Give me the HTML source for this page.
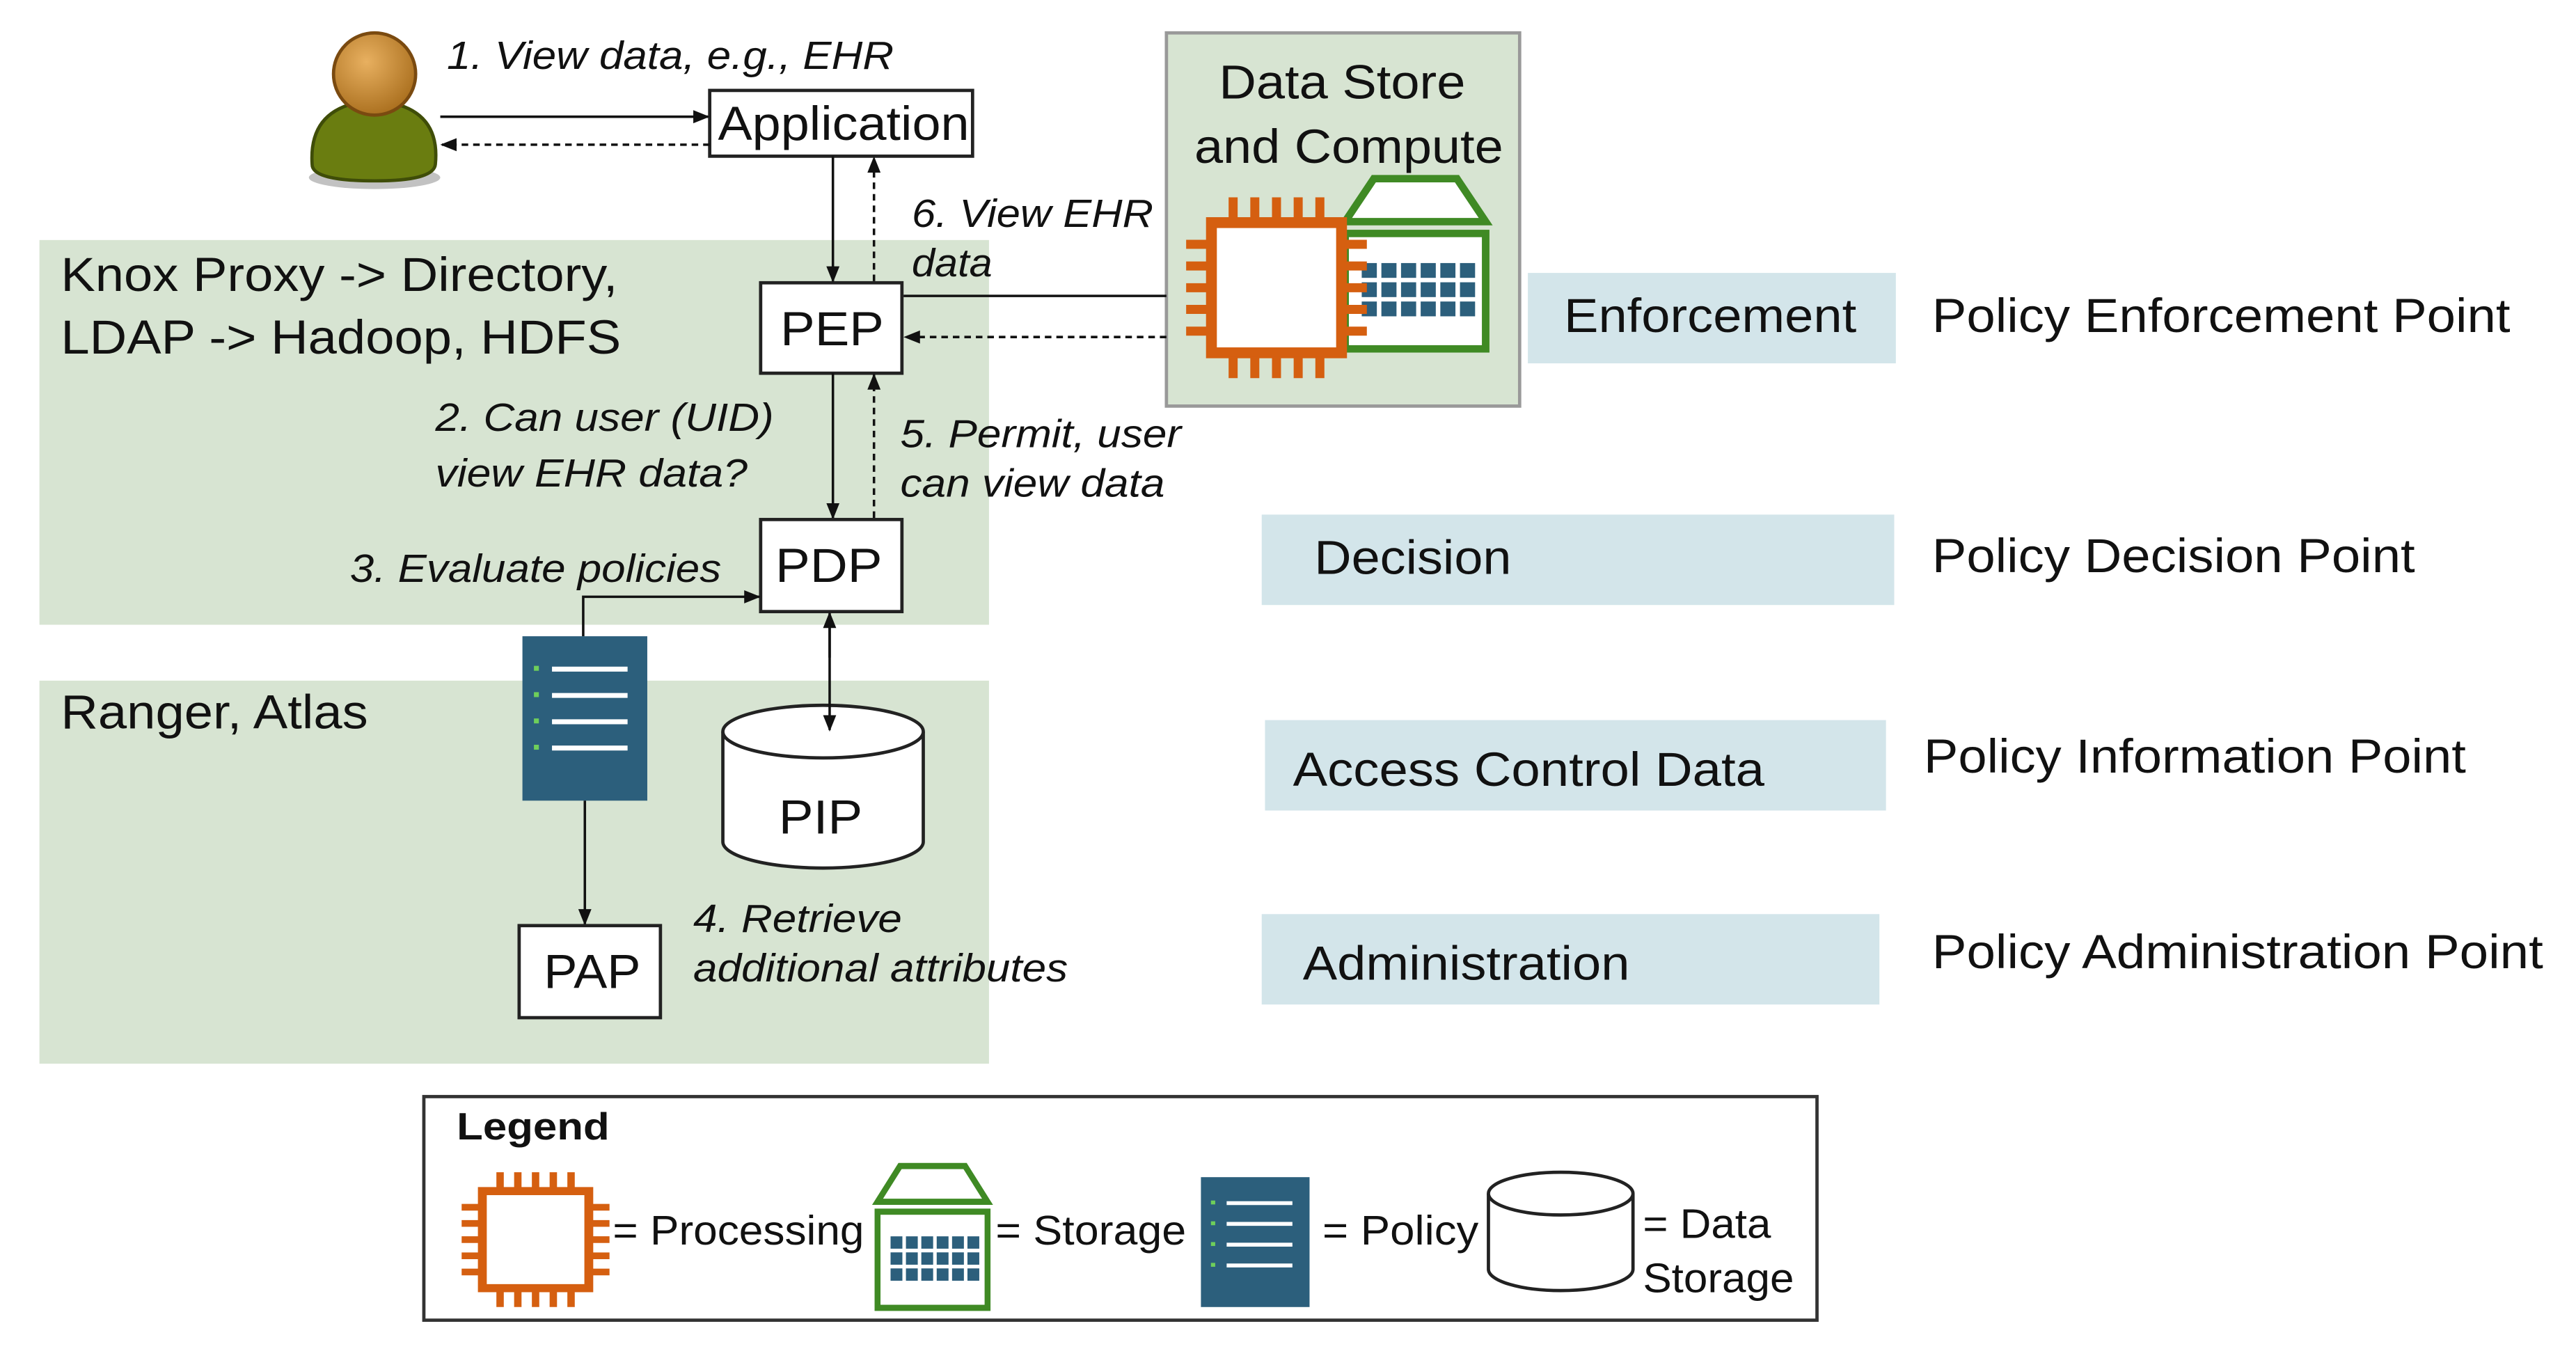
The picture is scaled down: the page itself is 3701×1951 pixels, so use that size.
<!DOCTYPE html>
<html><head><meta charset="utf-8"><style>
html,body{margin:0;padding:0;background:#fff;}
svg{display:block;}
text{font-family:"Liberation Sans",Arial,sans-serif;fill:#111;}
.it{font-style:italic;font-size:24px;}
.big{font-size:29px;}
</style></head><body>
<svg width="3701" height="1951" viewBox="0 0 1568 826" preserveAspectRatio="none" xmlns="http://www.w3.org/2000/svg">
<defs>
<marker id="ah" markerWidth="10" markerHeight="10" refX="9" refY="5" orient="auto" markerUnits="userSpaceOnUse">
<path d="M0,1 L10,5 L0,9 Z" fill="#111"/></marker>
<g id="chip">
<rect x="14" y="14" width="72" height="72" fill="#fff" stroke="#d55f10" stroke-width="6"/>
<g stroke="#d55f10" stroke-width="5">
<path d="M26,0V12M38,0V12M50,0V12M62,0V12M74,0V12"/>
<path d="M26,88V100M38,88V100M50,88V100M62,88V100M74,88V100"/>
<path d="M0,26H12M0,38H12M0,50H12M0,62H12M0,74H12"/>
<path d="M88,26H100M88,38H100M88,50H100M88,62H100M88,74H100"/>
</g></g>
<g id="stor">
<path d="M3,32 L22,3 L77,3 L96,32 Z" fill="#fff" stroke="#3f8a24" stroke-width="5"/>
<rect x="3" y="40" width="93" height="78" fill="#fff" stroke="#3f8a24" stroke-width="5"/>
<g fill="#2c5f7c">
<rect x="14" y="60" width="10" height="10"/><rect x="27" y="60" width="10" height="10"/><rect x="40" y="60" width="10" height="10"/><rect x="53" y="60" width="10" height="10"/><rect x="66" y="60" width="10" height="10"/><rect x="79" y="60" width="10" height="10"/>
<rect x="14" y="73" width="10" height="10"/><rect x="27" y="73" width="10" height="10"/><rect x="40" y="73" width="10" height="10"/><rect x="53" y="73" width="10" height="10"/><rect x="66" y="73" width="10" height="10"/><rect x="79" y="73" width="10" height="10"/>
<rect x="14" y="86" width="10" height="10"/><rect x="27" y="86" width="10" height="10"/><rect x="40" y="86" width="10" height="10"/><rect x="53" y="86" width="10" height="10"/><rect x="66" y="86" width="10" height="10"/><rect x="79" y="86" width="10" height="10"/>
</g></g>
<g id="pol">
<rect x="0" y="0" width="76" height="100" fill="#2c5f7c"/>
<g stroke="#fff" stroke-width="3"><path d="M18,20H64M18,36H64M18,52H64M18,68H64"/></g>
<g fill="#6fcf5a"><rect x="7" y="18" width="3" height="3"/><rect x="7" y="34" width="3" height="3"/><rect x="7" y="50" width="3" height="3"/><rect x="7" y="66" width="3" height="3"/></g>
</g>
<radialGradient id="hd" cx="0.4" cy="0.35" r="0.7"><stop offset="0" stop-color="#e8b060"/><stop offset="1" stop-color="#a86d1c"/></radialGradient>
</defs>

<rect x="24" y="146" width="578" height="234" fill="#d7e4d2"/>
<rect x="24" y="414" width="578" height="233" fill="#d7e4d2"/>

<ellipse cx="228" cy="108" rx="40" ry="7" fill="#999" opacity="0.6"/>
<path d="M190,100 Q188,70 215,63 L240,63 Q268,70 265,100 Q264,110 228,110 Q190,110 190,100 Z" fill="#6a7d10" stroke="#3f4d08" stroke-width="2"/>
<circle cx="228" cy="45" r="25" fill="url(#hd)" stroke="#7a4a10" stroke-width="2"/>

<rect x="432" y="55" width="160" height="40" fill="#fff" stroke="#222" stroke-width="2"/>
<text x="437" y="85" class="big" textLength="153" lengthAdjust="spacingAndGlyphs">Application</text>
<text x="272" y="42" class="it" textLength="272" lengthAdjust="spacingAndGlyphs">1. View data, e.g., EHR</text>
<line x1="268" y1="71" x2="431" y2="71" stroke="#111" stroke-width="1.5" marker-end="url(#ah)"/>
<line x1="432" y1="88" x2="269" y2="88" stroke="#111" stroke-width="1.5" stroke-dasharray="4,3" marker-end="url(#ah)"/>

<rect x="710" y="20" width="215" height="227" fill="#d7e4d2" stroke="#999" stroke-width="2"/>
<text x="742" y="60" class="big" textLength="150" lengthAdjust="spacingAndGlyphs">Data Store</text>
<text x="727" y="99" class="big" textLength="188" lengthAdjust="spacingAndGlyphs">and Compute</text>
<use href="#stor" transform="translate(816,106) scale(0.92,0.9)"/>
<use href="#chip" transform="translate(722,120) scale(1.1)"/>

<text x="37" y="177" class="big" textLength="339" lengthAdjust="spacingAndGlyphs">Knox Proxy -&gt; Directory,</text>
<text x="37" y="215" class="big" textLength="341" lengthAdjust="spacingAndGlyphs">LDAP -&gt; Hadoop, HDFS</text>

<rect x="463" y="172" width="86" height="55" fill="#fff" stroke="#222" stroke-width="2"/>
<text x="475" y="210" class="big" textLength="63" lengthAdjust="spacingAndGlyphs">PEP</text>
<line x1="710" y1="180" x2="550" y2="180" stroke="#111" stroke-width="1.5"/>
<line x1="710" y1="205" x2="551" y2="205" stroke="#111" stroke-width="1.5" stroke-dasharray="4,3" marker-end="url(#ah)"/>
<text x="555" y="138" class="it" textLength="147" lengthAdjust="spacingAndGlyphs">6. View EHR</text>
<text x="555" y="168" class="it" textLength="49" lengthAdjust="spacingAndGlyphs">data</text>
<line x1="507" y1="95" x2="507" y2="171" stroke="#111" stroke-width="1.5" marker-end="url(#ah)"/>
<line x1="532" y1="171" x2="532" y2="96" stroke="#111" stroke-width="1.5" stroke-dasharray="4,3" marker-end="url(#ah)"/>
<line x1="507" y1="227" x2="507" y2="315" stroke="#111" stroke-width="1.5" marker-end="url(#ah)"/>
<line x1="532" y1="315" x2="532" y2="228" stroke="#111" stroke-width="1.5" stroke-dasharray="4,3" marker-end="url(#ah)"/>
<text x="265" y="262" class="it" textLength="206" lengthAdjust="spacingAndGlyphs">2. Can user (UID)</text>
<text x="265" y="296" class="it" textLength="190" lengthAdjust="spacingAndGlyphs">view EHR data?</text>
<text x="548" y="272" class="it" textLength="171" lengthAdjust="spacingAndGlyphs">5. Permit, user</text>
<text x="548" y="302" class="it" textLength="161" lengthAdjust="spacingAndGlyphs">can view data</text>

<rect x="463" y="316" width="86" height="56" fill="#fff" stroke="#222" stroke-width="2"/>
<text x="472" y="354" class="big" textLength="65" lengthAdjust="spacingAndGlyphs">PDP</text>
<text x="213" y="354" class="it" textLength="226" lengthAdjust="spacingAndGlyphs">3. Evaluate policies</text>
<polyline points="355,387 355,363 462,363" fill="none" stroke="#111" stroke-width="1.5" marker-end="url(#ah)"/>

<text x="37" y="443" class="big" textLength="187" lengthAdjust="spacingAndGlyphs">Ranger, Atlas</text>
<use href="#pol" transform="translate(318,387)"/>
<line x1="356" y1="487" x2="356" y2="562" stroke="#111" stroke-width="1.5" marker-end="url(#ah)"/>
<rect x="316" y="563" width="86" height="56" fill="#fff" stroke="#222" stroke-width="2"/>
<text x="331" y="601" class="big" textLength="59" lengthAdjust="spacingAndGlyphs">PAP</text>

<path d="M440,445 L440,512 A61,16 0 0 0 562,512 L562,445" fill="#fff" stroke="#222" stroke-width="2"/>
<ellipse cx="501" cy="445" rx="61" ry="16" fill="#fff" stroke="#222" stroke-width="2"/>
<text x="474" y="507" class="big" textLength="51" lengthAdjust="spacingAndGlyphs">PIP</text>
<line x1="505" y1="380" x2="505" y2="444" stroke="#111" stroke-width="1.5" marker-end="url(#ah)"/>
<line x1="505" y1="400" x2="505" y2="373" stroke="#111" stroke-width="1.5" marker-end="url(#ah)"/>
<text x="422" y="567" class="it" textLength="127" lengthAdjust="spacingAndGlyphs">4. Retrieve</text>
<text x="422" y="597" class="it" textLength="228" lengthAdjust="spacingAndGlyphs">additional attributes</text>

<rect x="930" y="166" width="224" height="55" fill="#d3e5ea"/>
<text x="952" y="202" class="big" textLength="178" lengthAdjust="spacingAndGlyphs">Enforcement</text>
<rect x="768" y="313" width="385" height="55" fill="#d3e5ea"/>
<text x="800" y="349" class="big" textLength="120" lengthAdjust="spacingAndGlyphs">Decision</text>
<rect x="770" y="438" width="378" height="55" fill="#d3e5ea"/>
<text x="787" y="478" class="big" textLength="287" lengthAdjust="spacingAndGlyphs">Access Control Data</text>
<rect x="768" y="556" width="376" height="55" fill="#d3e5ea"/>
<text x="793" y="596" class="big" textLength="199" lengthAdjust="spacingAndGlyphs">Administration</text>
<text x="1176" y="202" class="big" textLength="352" lengthAdjust="spacingAndGlyphs">Policy Enforcement Point</text>
<text x="1176" y="348" class="big" textLength="294" lengthAdjust="spacingAndGlyphs">Policy Decision Point</text>
<text x="1171" y="470" class="big" textLength="330" lengthAdjust="spacingAndGlyphs">Policy Information Point</text>
<text x="1176" y="589" class="big" textLength="372" lengthAdjust="spacingAndGlyphs">Policy Administration Point</text>

<rect x="258" y="667" width="848" height="136" fill="#fff" stroke="#333" stroke-width="2"/>
<text x="278" y="693" font-size="23" font-weight="bold" textLength="93" lengthAdjust="spacingAndGlyphs">Legend</text>
<use href="#chip" transform="translate(281,713) scale(0.9,0.82)"/>
<text x="373" y="757" font-size="25" textLength="153" lengthAdjust="spacingAndGlyphs">= Processing</text>
<use href="#stor" transform="translate(532,707) scale(0.72,0.75)"/>
<text x="606" y="757" font-size="25" textLength="116" lengthAdjust="spacingAndGlyphs">= Storage</text>
<use href="#pol" transform="translate(731,716) scale(0.87,0.79)"/>
<text x="805" y="757" font-size="25" textLength="95" lengthAdjust="spacingAndGlyphs">= Policy</text>
<path d="M906,726 L906,772 A44,13 0 0 0 994,772 L994,726" fill="#fff" stroke="#222" stroke-width="2"/>
<ellipse cx="950" cy="726" rx="44" ry="13" fill="#fff" stroke="#222" stroke-width="2"/>
<text x="1000" y="753" font-size="25" textLength="78" lengthAdjust="spacingAndGlyphs">= Data</text>
<text x="1000" y="786" font-size="25" textLength="92" lengthAdjust="spacingAndGlyphs">Storage</text>
</svg>
</body></html>
